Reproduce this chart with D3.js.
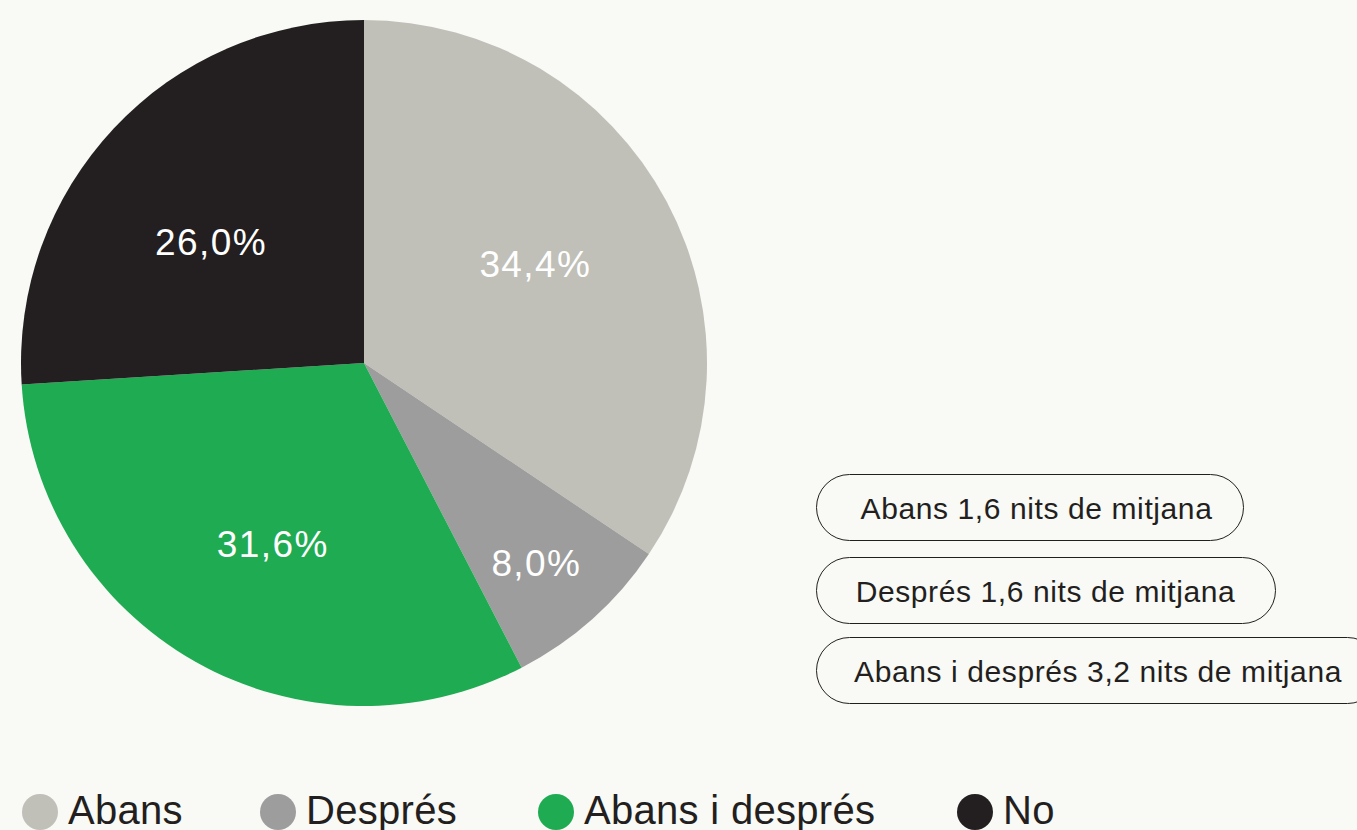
<!DOCTYPE html>
<html>
<head>
<meta charset="utf-8">
<script src="https://cdn.jsdelivr.net/npm/d3@7"></script>
<style>
  body { margin: 0; background: #f9f9f5; overflow: hidden; }
  text { font-family: "Liberation Sans", Arial, sans-serif; }
</style>
</head>
<body>
<div id="chart"></div>
<script>
// Data
var categories = ["Abans", "Després", "Abans i després", "No"];
var values = [34.4, 8.0, 31.6, 26.0];
var colors = ["#c0c0b8", "#9d9d9d", "#1fab52", "#231f20"];
var notes = ["Abans 1,6 nits de mitjana", "Després 1,6 nits de mitjana", "Abans i després 3,2 nits de mitjana"];

var svgWidth = 1357;
var svgHeight = 830;

var svg = d3.select("#chart")
  .append("svg")
  .attr("width", svgWidth)
  .attr("height", svgHeight);

var cx = 364, cy = 363, radius = 343;

// label placement along each slice (radius, angle nudge in degrees)
var labelRadius = [198, 264, 203, 195];
var labelNudge = [-2, 1, -2.8, -4.9];

var pieGroup = svg.append("g")
  .attr("transform", `translate(${cx}, ${cy})`);

var pie = d3.pie().sort(null).value(function (d) { return d; });
var arcs = pie(values);

var arc = d3.arc().innerRadius(0).outerRadius(radius);

pieGroup.selectAll("path")
  .data(arcs)
  .enter()
  .append("path")
  .attr("d", arc)
  .attr("fill", function (d, i) { return colors[i]; });

// Percent labels
pieGroup.selectAll(".pct")
  .data(arcs)
  .enter()
  .append("text")
  .attr("class", "pct")
  .attr("transform", function (d, i) {
    var r = labelRadius[i];
    var a = (d.startAngle + d.endAngle) / 2 + labelNudge[i] * Math.PI / 180;
    return `translate(${r * Math.sin(a)}, ${-r * Math.cos(a)})`;
  })
  .attr("text-anchor", "middle")
  .attr("dy", "0.35em")
  .attr("fill", "#ffffff")
  .attr("font-size", 37)
  .attr("letter-spacing", 1.4)
  .text(function (d) { return d.data.toFixed(1).replace(".", ",") + "%"; });

// Pill notes
var pillX = 816, pillH = 66;
var pillY = [474, 557, 637];
var pillW = [427, 459, 564];
var pillShift = [7, 0, 0];

var pills = svg.selectAll(".pill")
  .data(notes)
  .enter()
  .append("g")
  .attr("class", "pill")
  .attr("transform", function (d, i) { return `translate(${pillX}, ${pillY[i]})`; });

pills.append("rect")
  .attr("x", 0.5)
  .attr("y", 0.5)
  .attr("width", function (d, i) { return pillW[i]; })
  .attr("height", pillH)
  .attr("rx", pillH / 2)
  .attr("fill", "none")
  .attr("stroke", "#231f20")
  .attr("stroke-width", 1);

pills.append("text")
  .attr("x", function (d, i) { return pillW[i] / 2 + pillShift[i]; })
  .attr("y", pillH / 2 + 1)
  .attr("dy", "0.35em")
  .attr("text-anchor", "middle")
  .attr("fill", "#231f20")
  .attr("font-size", 30)
  .attr("letter-spacing", 0.6)
  .text(function (d) { return d; });

// Bottom legend
var legendX = [40, 278, 556, 975];
var legend = svg.selectAll(".legend")
  .data(categories)
  .enter()
  .append("g")
  .attr("class", "legend")
  .attr("transform", function (d, i) { return `translate(${legendX[i]}, 812)`; });

legend.append("circle")
  .attr("r", 18)
  .attr("fill", function (d, i) { return colors[i]; });

legend.append("text")
  .attr("x", 28)
  .attr("y", 12)
  .attr("fill", "#231f20")
  .attr("font-size", 40)
  .attr("letter-spacing", 0.3)
  .text(function (d) { return d; });
</script>
</body>
</html>
